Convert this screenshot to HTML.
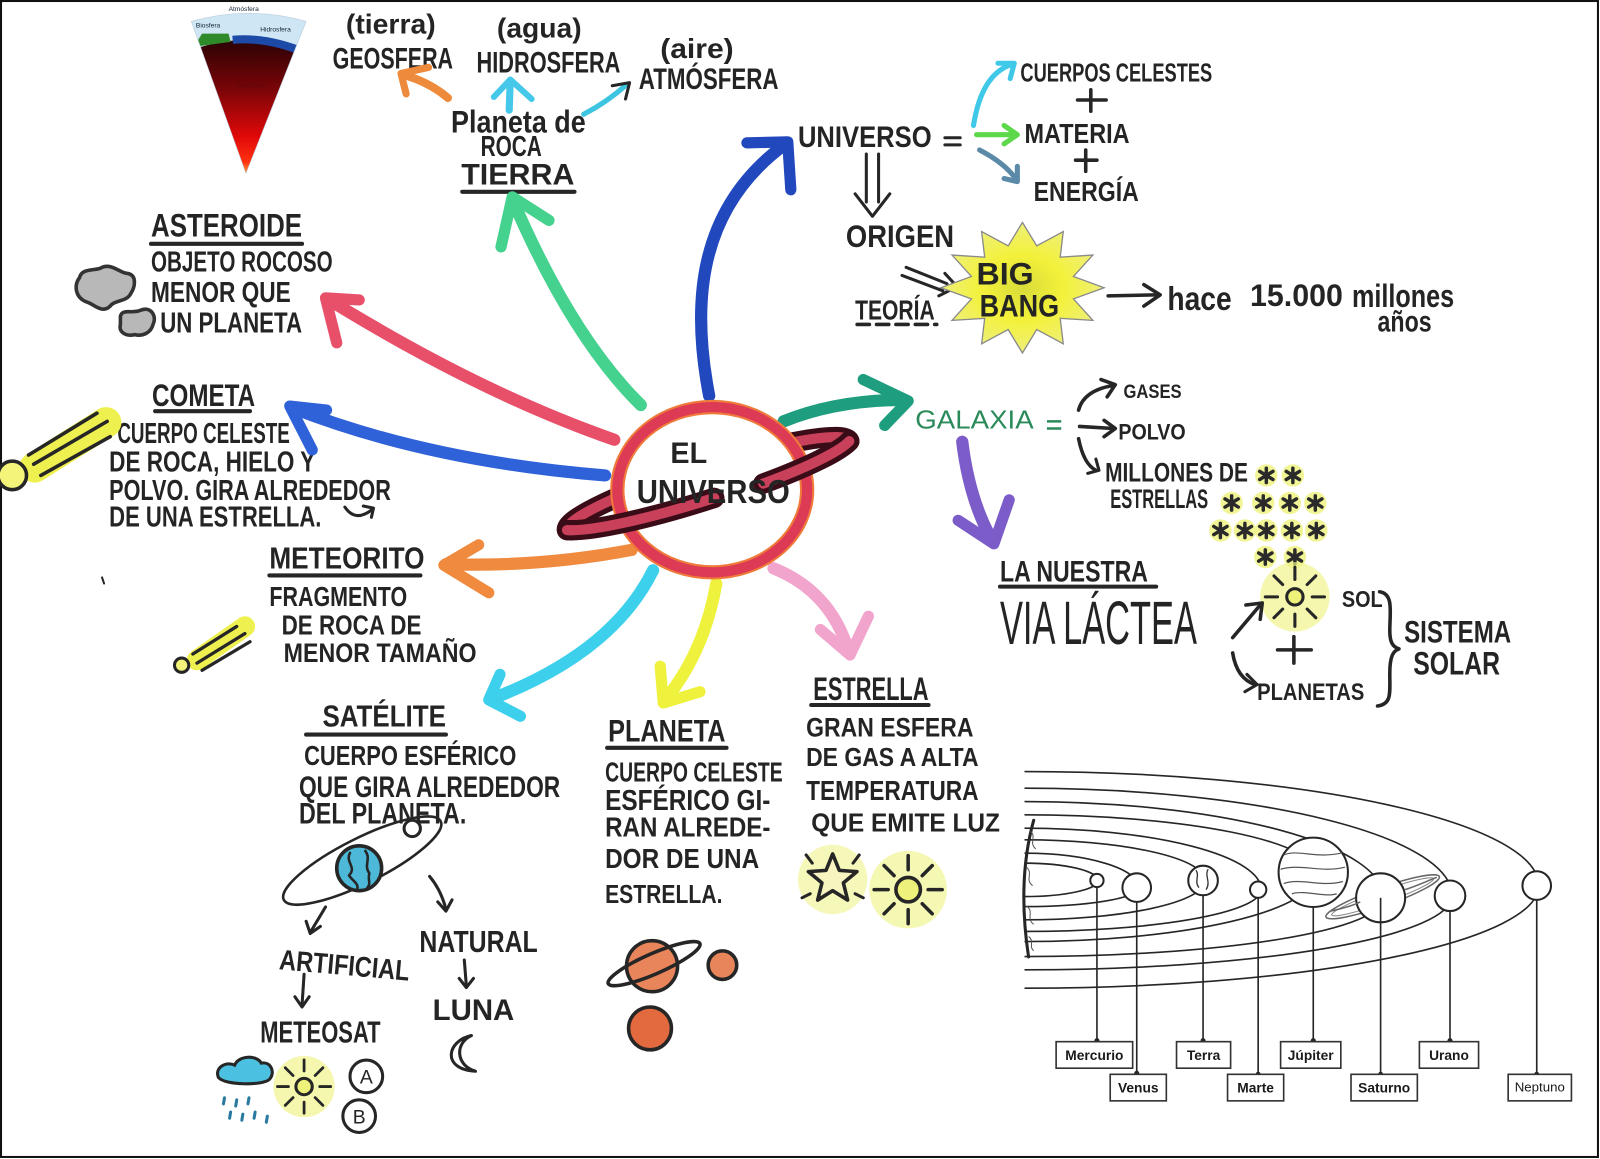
<!DOCTYPE html>
<html><head><meta charset="utf-8"><style>
html,body{margin:0;padding:0;background:#fff;}
svg{display:block;}
.t{font-family:"Liberation Sans","DejaVu Sans",sans-serif;font-weight:bold;fill:#242424;}
.n{font-weight:normal;}
.lbl{font-family:"Liberation Sans","DejaVu Sans",sans-serif;font-weight:bold;font-size:13.5px;fill:#1a1a1a;text-anchor:middle;}
.tiny{font-family:"Liberation Sans","DejaVu Sans",sans-serif;font-size:6.5px;fill:#123;}
.mk{fill:none;stroke-linecap:round;stroke-linejoin:round;}
.ink{fill:none;stroke:#262626;stroke-linecap:round;stroke-linejoin:round;}
</style></head><body>
<svg width="1600" height="1159" viewBox="0 0 1568 1136" preserveAspectRatio="none" xmlns="http://www.w3.org/2000/svg">
<defs>
<linearGradient id="geo" x1="0" y1="0" x2="0" y2="1">
<stop offset="0" stop-color="#2a0204"/><stop offset="0.35" stop-color="#7a0508"/><stop offset="0.68" stop-color="#e00808"/><stop offset="0.86" stop-color="#ff3010"/><stop offset="1" stop-color="#ffe860"/>
</linearGradient>
<radialGradient id="bb" cx="0.5" cy="0.5" r="0.5">
<stop offset="0" stop-color="#d8dc3a"/><stop offset="0.5" stop-color="#f3f13a"/><stop offset="1" stop-color="#eef07a"/>
</radialGradient>
<clipPath id="tri"><path d="M187.5,21 Q244,5 300,21 L241,170 Z"/></clipPath>
<g id="ast"><circle r="11" fill="#eef27a" opacity=".8"/><path d="M0,-7 L0,7 M-6.5,-4 L6.5,4 M-6.5,4 L6.5,-4" stroke="#2a2a2a" stroke-width="3.4" stroke-linecap="round"/></g>
<g id="rays"><path d="M17,0 L29,0 M12,12 L20.5,20.5 M0,17 L0,29 M-12,12 L-20.5,20.5 M-17,0 L-29,0 M-12,-12 L-20.5,-20.5 M0,-17 L0,-29 M12,-12 L20.5,-20.5" stroke="#262626" stroke-width="3" stroke-linecap="round"/></g>
</defs>

<rect x="0" y="0" width="1568" height="1136" fill="#fff"/>
<rect x="1" y="1" width="1565" height="1133" fill="none" stroke="#111" stroke-width="2"/>

<!-- Earth cross-section -->
<g clip-path="url(#tri)">
<rect x="180" y="0" width="130" height="180" fill="#cfe7f5"/>
<path d="M180,52 Q244,26 310,52 L241,178 Z" fill="url(#geo)"/>
<path d="M228,39 Q262,36 300,52" stroke="#1d4aa6" stroke-width="8" fill="none"/>
<path d="M190,46 L198,33 L224,33 L226,41 Z" fill="#2f8a2a"/>
</g>
<path d="M187.5,21 Q244,5 300,21 L241,170 Z" fill="none" stroke="#bcd" stroke-width="0.6"/>
<text class="tiny" x="224" y="11">Atmósfera</text>
<text class="tiny" x="192" y="27">Biosfera</text>
<text class="tiny" x="255" y="31">Hidrosfera</text>
<text class="tiny" x="233" y="86" style="fill:#5a0a0a">Geosfera</text>

<!-- top labels -->
<text class="t" x="339" y="33" font-size="27" textLength="88" lengthAdjust="spacingAndGlyphs">(tierra)</text>
<text class="t" x="326" y="67" font-size="29" textLength="118" lengthAdjust="spacingAndGlyphs">GEOSFERA</text>
<text class="t" x="487" y="37" font-size="27" textLength="83" lengthAdjust="spacingAndGlyphs">(agua)</text>
<text class="t" x="467" y="71" font-size="29" textLength="141" lengthAdjust="spacingAndGlyphs">HIDROSFERA</text>
<text class="t" x="647" y="57" font-size="27" textLength="72" lengthAdjust="spacingAndGlyphs">(aire)</text>
<text class="t" x="626" y="87" font-size="29" textLength="137" lengthAdjust="spacingAndGlyphs">ATMÓSFERA</text>
<text class="t" x="442" y="130" font-size="31" textLength="132" lengthAdjust="spacingAndGlyphs">Planeta de</text>
<text class="t" x="471" y="153" font-size="28" textLength="60" lengthAdjust="spacingAndGlyphs">ROCA</text>
<text class="t" x="452" y="181" font-size="29" textLength="111" lengthAdjust="spacingAndGlyphs">TIERRA</text>
<path d="M453,188 L563,188" class="ink" stroke-width="4"/>

<!-- small top arrows -->
<path d="M439,96 Q420,80 394,73" class="mk" stroke="#ee8a3c" stroke-width="8"/>
<polyline points="420,66 393,72 398,92" class="mk" stroke="#ee8a3c" stroke-width="7"/>
<path d="M499,108 L500,80" class="mk" stroke="#45c8ea" stroke-width="7"/>
<polyline points="484,95 500,78 521,97" class="mk" stroke="#45c8ea" stroke-width="6"/>
<path d="M572,112 Q595,100 614,83" class="mk" stroke="#3cc4e0" stroke-width="5"/>
<polyline points="600,84 617,81 613,97" class="ink" stroke-width="3"/>

<!-- asteroid -->
<text class="t" x="148" y="232" font-size="32" textLength="148" lengthAdjust="spacingAndGlyphs">ASTEROIDE</text>
<path d="M148,239 L296,239" class="ink" stroke-width="4"/>
<text class="t" x="148" y="266" font-size="28" textLength="178" lengthAdjust="spacingAndGlyphs">OBJETO ROCOSO</text>
<text class="t" x="148" y="296" font-size="28" textLength="137" lengthAdjust="spacingAndGlyphs">MENOR QUE</text>
<text class="t" x="157" y="326" font-size="28" textLength="139" lengthAdjust="spacingAndGlyphs">UN PLANETA</text>
<path d="M78,272 C80,262 95,266 100,262 C110,258 118,268 125,268 C135,270 132,282 128,288 C124,296 112,294 108,300 C100,308 92,298 85,296 C74,292 72,280 78,272 Z" fill="#b8b8b8" stroke="#333" stroke-width="3.5"/>
<path d="M118,310 C120,302 130,308 138,304 C148,300 154,310 150,318 C148,326 140,330 132,328 C124,330 116,326 118,318 Z" fill="#b8b8b8" stroke="#333" stroke-width="3.5"/>

<!-- comet -->
<text class="t" x="149" y="398" font-size="31" textLength="101" lengthAdjust="spacingAndGlyphs">COMETA</text>
<path d="M152,403 L245,403" class="ink" stroke-width="4"/>
<text class="t" x="115" y="434" font-size="28" textLength="169" lengthAdjust="spacingAndGlyphs">CUERPO CELESTE</text>
<text class="t" x="107" y="462" font-size="28" textLength="202" lengthAdjust="spacingAndGlyphs">DE ROCA, HIELO Y</text>
<text class="t" x="107" y="490" font-size="28" textLength="276" lengthAdjust="spacingAndGlyphs">POLVO. GIRA ALREDEDOR</text>
<text class="t" x="107" y="516" font-size="28" textLength="208" lengthAdjust="spacingAndGlyphs">DE UNA ESTRELLA.</text>
<path d="M338,497 Q348,512 364,500" class="ink" stroke-width="3"/>
<polyline points="356,496 366,498 364,507" class="ink" stroke-width="3"/>
<path d="M34,458 L104,414" class="mk" stroke="#eef050" stroke-width="30"/>
<path d="M28,446 L95,405 M33,455 L105,413 M40,466 L108,428" class="ink" stroke-width="3.5"/>
<circle cx="12" cy="466" r="14" fill="#f4f47a" stroke="#262626" stroke-width="3.5"/>
<path d="M100,566 L102,572" class="ink" stroke-width="2"/>

<!-- meteorite -->
<text class="t" x="264" y="557" font-size="30" textLength="152" lengthAdjust="spacingAndGlyphs">METEORITO</text>
<path d="M264,564 L412,564" class="ink" stroke-width="4"/>
<text class="t" x="264" y="594" font-size="27" textLength="135" lengthAdjust="spacingAndGlyphs">FRAGMENTO</text>
<text class="t" x="276" y="622" font-size="27" textLength="137" lengthAdjust="spacingAndGlyphs">DE ROCA DE</text>
<text class="t" x="278" y="649" font-size="26" textLength="189" lengthAdjust="spacingAndGlyphs">MENOR TAMAÑO</text>
<path d="M193,647 L240,614" class="mk" stroke="#eef050" stroke-width="20"/>
<path d="M189,641 L232,614 M193,650 L240,621 M198,657 L245,629" class="ink" stroke-width="3.2"/>
<circle cx="178" cy="652" r="7" fill="#f4f47a" stroke="#262626" stroke-width="3"/>

<!-- main colored arrows -->
<path d="M628,397 Q560,330 502,195" class="mk" stroke="#45d18e" stroke-width="12"/>
<polyline points="491,242 502,193 538,216" class="mk" stroke="#45d18e" stroke-width="11"/>
<path d="M602,431 Q470,385 321,293" class="mk" stroke="#e8506a" stroke-width="12"/>
<polyline points="352,294 319,292 330,336" class="mk" stroke="#e8506a" stroke-width="11"/>
<path d="M593,466 Q420,452 287,400" class="mk" stroke="#2f62d8" stroke-width="12"/>
<polyline points="320,402 284,398 306,441" class="mk" stroke="#2f62d8" stroke-width="11"/>
<path d="M695,388 C678,300 682,205 770,141" class="mk" stroke="#2148bd" stroke-width="12"/>
<polyline points="732,140 772,139 775,186" class="mk" stroke="#2148bd" stroke-width="11"/>
<path d="M768,413 Q820,392 886,392" class="mk" stroke="#1f9e7f" stroke-width="12"/>
<polyline points="846,372 890,393 867,417" class="mk" stroke="#1f9e7f" stroke-width="11"/>
<path d="M619,539 Q530,556 437,553" class="mk" stroke="#f08a3e" stroke-width="12"/>
<polyline points="469,534 435,554 479,581" class="mk" stroke="#f08a3e" stroke-width="11"/>
<path d="M640,559 Q600,640 482,685" class="mk" stroke="#3dd0ec" stroke-width="12"/>
<polyline points="490,661 479,686 510,702" class="mk" stroke="#3dd0ec" stroke-width="11"/>
<path d="M702,572 Q690,640 651,687" class="mk" stroke="#eef23c" stroke-width="12"/>
<polyline points="647,653 650,689 686,678" class="mk" stroke="#eef23c" stroke-width="11"/>
<path d="M758,557 Q815,580 832,640" class="mk" stroke="#f2a5cc" stroke-width="12"/>
<polyline points="804,617 833,642 851,604" class="mk" stroke="#f2a5cc" stroke-width="11"/>
<path d="M943,433 Q950,490 972,529" class="mk" stroke="#7c5cc8" stroke-width="12"/>
<polyline points="939,510 974,533 989,490" class="mk" stroke="#7c5cc8" stroke-width="11"/>

<!-- center planet -->
<path d="M555.7,519.6 A145,20 -17.5 0 1 832.3,432.4" class="mk" stroke="#3a0c18" stroke-width="20"/>
<path d="M555.7,519.6 A145,20 -17.5 0 1 832.3,432.4" class="mk" stroke="#c8405a" stroke-width="10"/>
<ellipse cx="698" cy="480" rx="93" ry="81" fill="#fff" stroke="#f07a3a" stroke-width="14"/>
<ellipse cx="698" cy="480" rx="93" ry="81" fill="none" stroke="#dc3a55" stroke-width="10"/>
<path d="M832.3,432.4 A145,20 -17.5 0 1 748,474" class="mk" stroke="#3a0c18" stroke-width="20"/>
<path d="M832.3,432.4 A145,20 -17.5 0 1 748,474" class="mk" stroke="#c8405a" stroke-width="10"/>
<path d="M700,488 A145,20 -17.5 0 1 555.7,519.6" class="mk" stroke="#3a0c18" stroke-width="20"/>
<path d="M700,488 A145,20 -17.5 0 1 555.7,519.6" class="mk" stroke="#c8405a" stroke-width="10"/>
<text class="t" x="657" y="454" font-size="29" textLength="36" lengthAdjust="spacingAndGlyphs">EL</text>
<text class="t" x="624" y="493" font-size="33" textLength="150" lengthAdjust="spacingAndGlyphs">UNIVERSO</text>

<!-- universo section -->
<text class="t" x="782" y="144" font-size="29" textLength="131" lengthAdjust="spacingAndGlyphs">UNIVERSO</text>
<path d="M926,135 L941,135 M926,142 L941,142" class="ink" stroke-width="3"/>
<path d="M954,123 Q962,72 992,63" class="mk" stroke="#40c8e8" stroke-width="5"/>
<polyline points="978,62 994,62 990,77" class="mk" stroke="#40c8e8" stroke-width="5"/>
<path d="M957,132 L995,132" class="mk" stroke="#5cd84a" stroke-width="5"/>
<polyline points="984,123 997,132 984,141" class="mk" stroke="#5cd84a" stroke-width="5"/>
<path d="M960,147 Q985,160 996,176" class="mk" stroke="#5a8aa8" stroke-width="5"/>
<polyline points="984,175 997,178 997,163" class="mk" stroke="#5a8aa8" stroke-width="5"/>
<text class="t" x="1000" y="80" font-size="25" textLength="188" lengthAdjust="spacingAndGlyphs">CUERPOS CELESTES</text>
<path d="M1069,88 L1069,109 M1056,98 L1084,98" class="ink" stroke-width="3.5"/>
<text class="t" x="1004" y="140" font-size="27" textLength="103" lengthAdjust="spacingAndGlyphs">MATERIA</text>
<path d="M1064,147 L1064,168 M1054,157 L1075,157" class="ink" stroke-width="3.5"/>
<text class="t" x="1013" y="197" font-size="27" textLength="103" lengthAdjust="spacingAndGlyphs">ENERGÍA</text>
<path d="M849,151 L849,198 M861,151 L861,198 M838,190 L855,212 L872,190" class="ink" stroke-width="3"/>
<text class="t" x="829" y="242" font-size="31" textLength="106" lengthAdjust="spacingAndGlyphs">ORIGEN</text>
<path d="M888,262 L928,278 M884,270 L924,285 M926,268 L938,281 L920,290" class="ink" stroke-width="3"/>
<text class="t" x="838" y="313" font-size="27" textLength="78" lengthAdjust="spacingAndGlyphs">TEORÍA</text>
<path d="M840,318 L918,318" class="ink" stroke-width="3.5" stroke-dasharray="12,7"/>
<polygon points="1082,282 1052,293 1071,314 1039,312 1042,337 1016,323 1002,346 988,323 962,337 965,312 933,314 952,293 922,282 952,271 933,250 965,252 962,227 988,241 1002,218 1016,241 1042,227 1039,252 1071,250 1052,271" fill="url(#bb)" stroke="#8a8a8a" stroke-width="1.3"/>
<text class="t" x="957" y="279" font-size="31" textLength="56" lengthAdjust="spacingAndGlyphs">BIG</text>
<text class="t" x="960" y="310" font-size="31" textLength="78" lengthAdjust="spacingAndGlyphs">BANG</text>
<path d="M1086,290 L1134,289" class="ink" stroke-width="3.5"/>
<polyline points="1121,279 1137,289 1121,300" class="ink" stroke-width="3.5"/>
<text class="t" x="1144" y="304" font-size="33" textLength="63" lengthAdjust="spacingAndGlyphs">hace</text>
<text class="t" x="1225" y="300" font-size="31" textLength="91" lengthAdjust="spacingAndGlyphs">15.000</text>
<text class="t" x="1325" y="301" font-size="32" textLength="100" lengthAdjust="spacingAndGlyphs">millones</text>
<text class="t" x="1350" y="325" font-size="29" textLength="53" lengthAdjust="spacingAndGlyphs">años</text>

<!-- galaxia -->
<text class="t n" x="897" y="420" font-size="25" textLength="116" lengthAdjust="spacingAndGlyphs" style="fill:#2a8a5a">GALAXIA</text>
<path d="M1026,413 L1040,413 M1026,420 L1040,420" fill="none" stroke="#2a8a5a" stroke-width="2.5"/>
<path d="M1057,402 Q1062,383 1090,378" class="ink" stroke-width="3.5"/>
<polyline points="1079,372 1093,377 1085,389" class="ink" stroke-width="3.5"/>
<path d="M1058,418 L1091,420" class="ink" stroke-width="3.5"/>
<polyline points="1082,412 1093,420 1082,428" class="ink" stroke-width="3.5"/>
<path d="M1057,430 Q1062,455 1074,461" class="ink" stroke-width="3.5"/>
<polyline points="1066,464 1077,461 1074,450" class="ink" stroke-width="3"/>
<text class="t" x="1101" y="390" font-size="19" textLength="57" lengthAdjust="spacingAndGlyphs">GASES</text>
<text class="t" x="1096" y="431" font-size="22" textLength="66" lengthAdjust="spacingAndGlyphs">POLVO</text>
<text class="t" x="1083" y="472" font-size="26" textLength="140" lengthAdjust="spacingAndGlyphs">MILLONES DE</text>
<text class="t" x="1088" y="498" font-size="26" textLength="96" lengthAdjust="spacingAndGlyphs">ESTRELLAS</text>
<use href="#ast" x="1241" y="466"/><use href="#ast" x="1267" y="466"/>
<use href="#ast" x="1207" y="493"/><use href="#ast" x="1238" y="493"/><use href="#ast" x="1264" y="493"/><use href="#ast" x="1289" y="493"/>
<use href="#ast" x="1196" y="520"/><use href="#ast" x="1220" y="520"/><use href="#ast" x="1241" y="520"/><use href="#ast" x="1266" y="520"/><use href="#ast" x="1290" y="520"/>
<use href="#ast" x="1240" y="546"/><use href="#ast" x="1269" y="546"/>
<circle cx="1269" cy="585" r="34" fill="#f0f48a" opacity=".7"/>
<use href="#rays" x="1269" y="585"/>
<circle cx="1269" cy="585" r="8" fill="#eef27a" stroke="#262626" stroke-width="3"/>
<text class="t" x="1315" y="595" font-size="23" textLength="40" lengthAdjust="spacingAndGlyphs">SOL</text>
<path d="M1268,624 L1268,650 M1252,637 L1285,637" class="ink" stroke-width="3.5"/>
<path d="M1208,625 L1235,593" class="ink" stroke-width="3.5"/>
<polyline points="1221,593 1237,591 1235,607" class="ink" stroke-width="3.5"/>
<path d="M1208,640 Q1212,665 1230,671" class="ink" stroke-width="3.5"/>
<polyline points="1220,678 1232,671 1222,661" class="ink" stroke-width="3"/>
<text class="t" x="1232" y="686" font-size="24" textLength="105" lengthAdjust="spacingAndGlyphs">PLANETAS</text>
<path d="M1352,580 C1366,582 1362,600 1362,618 C1362,630 1365,634 1371,636 C1365,638 1362,644 1362,660 C1362,680 1364,690 1350,692" class="ink" stroke-width="3.5"/>
<text class="t" x="1376" y="630" font-size="31" textLength="105" lengthAdjust="spacingAndGlyphs">SISTEMA</text>
<text class="t" x="1385" y="661" font-size="32" textLength="85" lengthAdjust="spacingAndGlyphs">SOLAR</text>
<text class="t" x="980" y="570" font-size="29" textLength="145" lengthAdjust="spacingAndGlyphs">LA NUESTRA</text>
<path d="M980,575 L1133,575" class="ink" stroke-width="4"/>
<text class="t n" x="980" y="631" font-size="60" textLength="193" lengthAdjust="spacingAndGlyphs">VIA LÁCTEA</text>

<!-- satellite -->
<text class="t" x="316" y="712" font-size="30" textLength="121" lengthAdjust="spacingAndGlyphs">SATÉLITE</text>
<path d="M300,720 L437,720" class="ink" stroke-width="4"/>
<text class="t" x="298" y="750" font-size="27" textLength="208" lengthAdjust="spacingAndGlyphs">CUERPO ESFÉRICO</text>
<text class="t" x="293" y="781" font-size="29" textLength="256" lengthAdjust="spacingAndGlyphs">QUE GIRA ALREDEDOR</text>
<text class="t" x="293" y="807" font-size="29" textLength="164" lengthAdjust="spacingAndGlyphs">DEL PLANETA.</text>
<ellipse cx="355" cy="843.5" rx="86" ry="22" transform="rotate(-26.6 355 843.5)" class="ink" stroke-width="2.5"/>
<circle cx="352" cy="851" r="22" fill="#4db8d8" stroke="#262626" stroke-width="3.5"/>
<path d="M343,836 C338,845 350,850 342,858 C346,864 352,866 350,872 M358,834 C364,842 356,848 362,856 C360,862 364,866 360,870" class="ink" stroke-width="2.5"/>
<circle cx="404" cy="812" r="8" fill="#fff" stroke="#262626" stroke-width="3"/>
<path d="M319,889 L304,914" class="ink" stroke-width="3"/>
<polyline points="300,903 304,915 314,908" class="ink" stroke-width="3"/>
<path d="M421,859 Q432,872 437,891" class="ink" stroke-width="3"/>
<polyline points="429,884 437,893 443,882" class="ink" stroke-width="3"/>
<text class="t" x="273" y="950" font-size="28" textLength="128" lengthAdjust="spacingAndGlyphs" transform="rotate(5 273 950)">ARTIFICIAL</text>
<text class="t" x="411" y="933" font-size="30" textLength="116" lengthAdjust="spacingAndGlyphs">NATURAL</text>
<path d="M298,955 L296,985" class="ink" stroke-width="3"/>
<polyline points="289,977 296,987 303,977" class="ink" stroke-width="3"/>
<path d="M455,941 L457,966" class="ink" stroke-width="3"/>
<polyline points="450,959 457,968 464,959" class="ink" stroke-width="3"/>
<text class="t" x="255" y="1022" font-size="30" textLength="118" lengthAdjust="spacingAndGlyphs">METEOSAT</text>
<text class="t" x="424" y="1000" font-size="29" textLength="80" lengthAdjust="spacingAndGlyphs">LUNA</text>
<path d="M462,1015 C438,1020 432,1048 466,1050 C446,1044 446,1022 462,1015 Z" class="ink" stroke-width="3"/>
<path d="M214,1056 C210,1046 222,1040 230,1044 C234,1034 252,1034 256,1042 C266,1040 270,1052 264,1058 C258,1064 220,1064 214,1056 Z" fill="#4cc0e0" stroke="#262626" stroke-width="3"/>
<path d="M220,1076 L219,1082 M232,1078 L231,1084 M244,1076 L243,1082 M226,1090 L225,1096 M238,1092 L237,1098 M250,1090 L249,1096 M262,1094 L261,1100" stroke="#2a7aa0" stroke-width="3" stroke-linecap="round"/>
<circle cx="298" cy="1065" r="30" fill="#f0f48a" opacity=".7"/>
<use href="#rays" x="0" y="0" transform="translate(298 1065) scale(.9)"/>
<circle cx="298" cy="1065" r="8" fill="#eef27a" stroke="#262626" stroke-width="3"/>
<circle cx="359" cy="1055" r="16" fill="none" stroke="#262626" stroke-width="3"/>
<text class="t n" x="359" y="1062" font-size="19" text-anchor="middle">A</text>
<circle cx="352" cy="1094" r="16" fill="none" stroke="#262626" stroke-width="3"/>
<text class="t n" x="352" y="1101" font-size="19" text-anchor="middle">B</text>

<!-- planeta -->
<text class="t" x="596" y="727" font-size="31" textLength="115" lengthAdjust="spacingAndGlyphs">PLANETA</text>
<path d="M595,733 L712,733" class="ink" stroke-width="4"/>
<text class="t" x="593" y="766" font-size="27" textLength="174" lengthAdjust="spacingAndGlyphs">CUERPO CELESTE</text>
<text class="t" x="593" y="794" font-size="28" textLength="162" lengthAdjust="spacingAndGlyphs">ESFÉRICO GI-</text>
<text class="t" x="593" y="820" font-size="27" textLength="162" lengthAdjust="spacingAndGlyphs">RAN ALREDE-</text>
<text class="t" x="593" y="851" font-size="27" textLength="151" lengthAdjust="spacingAndGlyphs">DOR DE UNA</text>
<text class="t" x="593" y="885" font-size="25" textLength="115" lengthAdjust="spacingAndGlyphs">ESTRELLA.</text>
<circle cx="639" cy="947" r="25" fill="#e8855a" stroke="#262626" stroke-width="3.5"/>
<ellipse cx="641" cy="944.5" rx="49" ry="10" transform="rotate(-23.6 641 944.5)" class="ink" stroke-width="3.5"/>
<circle cx="708" cy="946" r="14" fill="#e8855a" stroke="#262626" stroke-width="3.5"/>
<circle cx="637" cy="1008" r="21" fill="#e26a3e" stroke="#262626" stroke-width="3.5"/>

<!-- estrella -->
<text class="t" x="797" y="686" font-size="32" textLength="113" lengthAdjust="spacingAndGlyphs">ESTRELLA</text>
<path d="M795,691 L910,691" class="ink" stroke-width="4"/>
<text class="t" x="790" y="722" font-size="26" textLength="164" lengthAdjust="spacingAndGlyphs">GRAN ESFERA</text>
<text class="t" x="790" y="751" font-size="25" textLength="169" lengthAdjust="spacingAndGlyphs">DE GAS A ALTA</text>
<text class="t" x="790" y="784" font-size="27" textLength="169" lengthAdjust="spacingAndGlyphs">TEMPERATURA</text>
<text class="t" x="795" y="815" font-size="25" textLength="185" lengthAdjust="spacingAndGlyphs">QUE EMITE LUZ</text>
<circle cx="816" cy="862" r="34" fill="#f0f48a" opacity=".6"/>
<path d="M790,838 L796,846 M842,838 L836,846 M786,880 L794,876 M846,880 L838,876" class="ink" stroke-width="3"/>
<polygon points="816,837 822.5,853.1 839.8,854.3 826.5,865.4 830.7,882.2 816,873 801.3,882.2 805.5,865.4 792.2,854.3 809.5,853.1" fill="#f7f4c0" stroke="#262626" stroke-width="3.5" stroke-linejoin="round"/>
<circle cx="890" cy="872" r="38" fill="#f0f48a" opacity=".65"/>
<use href="#rays" x="0" y="0" transform="translate(890 872) scale(1.15)"/>
<circle cx="890" cy="872" r="12" fill="#eef27a" stroke="#262626" stroke-width="3.5"/>

<!-- solar system -->
<g fill="none" stroke="#262626" stroke-width="1.6">
<path d="M1004,846 A72,17 0 0 1 1076,863 A72,15.8 0 0 1 1004,878.8"/>
<path d="M1004,836.3 A112,33.7 0 0 1 1116,870 A112,18.6 0 0 1 1004,888.6"/>
<path d="M1004,823.2 A177,39.8 0 0 1 1181,863 A177,38.6 0 0 1 1004,901.6"/>
<path d="M1004,811.8 A232,60.2 0 0 1 1236,872 A232,41 0 0 1 1004,913"/>
<path d="M1004,798.7 A286,57.3 0 0 1 1290,856 A286,66.9 0 0 1 1004,922.9"/>
<path d="M1004,785.6 A352,94.4 0 0 1 1356,880 A352,57.6 0 0 1 1004,937.6"/>
<path d="M1004,772.6 A419,105.4 0 0 1 1423,878 A419,72.6 0 0 1 1004,950.6"/>
<path d="M1004,756.2 A504,111.8 0 0 1 1508,868 A504,100.6 0 0 1 1004,968.6"/>
</g>
<path d="M1013,804 C1003,840 1000,885 1008,938" class="ink" stroke-width="3"/>
<path d="M1010,815 C1016,820 1008,826 1015,832 M1006,850 C1013,856 1004,862 1012,868 M1006,888 C1014,894 1005,900 1013,906 M1008,918 C1014,922 1008,928 1013,932" fill="none" stroke="#555" stroke-width="1"/>
<g stroke="#262626" stroke-width="1.6">
<line x1="1075" y1="863" x2="1075" y2="1021"/>
<line x1="1114" y1="870" x2="1114" y2="1052"/>
<line x1="1179" y1="863" x2="1179" y2="1021"/>
<line x1="1233" y1="872" x2="1233" y2="1053"/>
<line x1="1287" y1="855" x2="1287" y2="1021"/>
<line x1="1353" y1="880" x2="1353" y2="1053"/>
<line x1="1421" y1="878" x2="1421" y2="1021"/>
<line x1="1506" y1="868" x2="1506" y2="1053"/>
</g>
<g fill="#fff" stroke="#262626" stroke-width="2">
<circle cx="1075" cy="863" r="6.5"/>
<circle cx="1114" cy="870" r="14"/>
<circle cx="1179" cy="863" r="14.5"/>
<circle cx="1233" cy="872" r="8"/>
<circle cx="1287" cy="855" r="34"/>
<circle cx="1421" cy="878" r="15"/>
<circle cx="1506" cy="868" r="14"/>
</g>
<path d="M1172,853 C1176,858 1170,864 1175,870 M1184,852 C1180,858 1187,864 1182,872" fill="none" stroke="#333" stroke-width="1.3"/>
<path d="M1258,838 C1272,832 1290,842 1315,836 M1255,852 C1275,846 1295,856 1318,850 M1258,866 C1275,860 1295,870 1316,864 M1266,876 C1280,872 1298,880 1310,876" fill="none" stroke="#555" stroke-width="1.2"/>
<ellipse cx="1355" cy="879" rx="59" ry="9" transform="rotate(-19.6 1355 879)" fill="none" stroke="#666" stroke-width="1.5"/>
<ellipse cx="1355" cy="879" rx="53" ry="6" transform="rotate(-19.6 1355 879)" fill="none" stroke="#888" stroke-width="1"/>
<circle cx="1353" cy="880" r="24" fill="#fff" stroke="#262626" stroke-width="2"/>
<path d="M1304,893 C1318,890 1330,886 1333,884 M1377,872 C1390,868 1402,862 1408,860" fill="none" stroke="#666" stroke-width="1.5"/>
<line x1="1353" y1="880" x2="1353" y2="904" stroke="#262626" stroke-width="1.6"/>
<g fill="#262626">
<circle cx="1075" cy="1020" r="2.5"/><circle cx="1114" cy="1052" r="2.5"/><circle cx="1179" cy="1020" r="2.5"/><circle cx="1233" cy="1053" r="2.5"/>
<circle cx="1287" cy="1020" r="2.5"/><circle cx="1353" cy="1053" r="2.5"/><circle cx="1421" cy="1020" r="2.5"/><circle cx="1506" cy="1053" r="2.5"/>
</g>
<g fill="#fff" stroke="#333" stroke-width="1.6">
<rect x="1035" y="1021" width="75" height="26"/>
<rect x="1088" y="1053" width="55" height="26"/>
<rect x="1153" y="1021" width="53" height="26"/>
<rect x="1203" y="1053" width="55" height="26"/>
<rect x="1255" y="1021" width="59" height="26"/>
<rect x="1324" y="1053" width="65" height="26"/>
<rect x="1391" y="1021" width="58" height="26"/>
<rect x="1478" y="1053" width="62" height="26"/>
</g>
<text class="lbl" x="1072.5" y="1039">Mercurio</text>
<text class="lbl" x="1115.5" y="1071">Venus</text>
<text class="lbl" x="1179.5" y="1039">Terra</text>
<text class="lbl" x="1230.5" y="1071">Marte</text>
<text class="lbl" x="1284.5" y="1039">Júpiter</text>
<text class="lbl" x="1356.5" y="1071">Saturno</text>
<text class="lbl" x="1420" y="1039">Urano</text>
<text class="lbl" x="1509" y="1070" style="font-weight:normal;font-size:13px">Neptuno</text>
</svg>
</body></html>
